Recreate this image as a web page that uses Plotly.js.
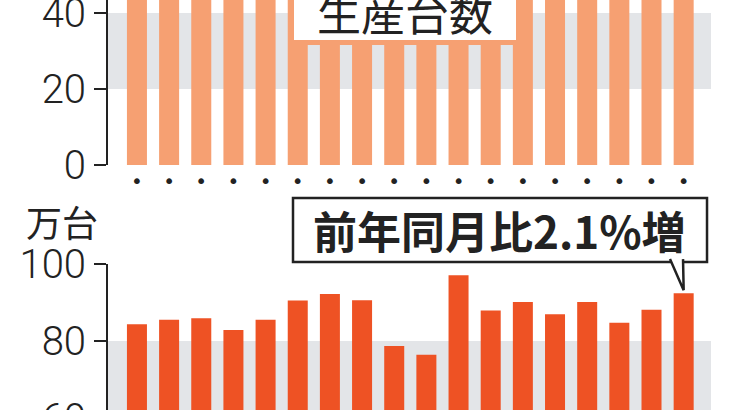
<!DOCTYPE html>
<html>
<head>
<meta charset="utf-8">
<script src="https://cdn.plot.ly/plotly-3.0.1.min.js"></script>
<style>
  html, body { margin: 0; padding: 0; overflow: hidden; background: #fff; height: 100%; }
  #chart { position: absolute; left: 0; top: -30px; width: 730px; height: 480px; }
</style>
</head>
<body>
<div id="chart"></div>
<script>
// 18 months, labels shown only as dots
var months = ['1', '2', '3', '4', '5', '6', '7', '8', '9', '10', '11', '12', '13', '14', '15', '16', '17', '18'];
// upper panel: bars run off the top of the crop, values are estimates
var prodUnits = [72, 74, 75, 71, 74, 79, 80, 79, 68, 66, 84, 76, 78, 75, 78, 73, 76, 80];
// lower panel, 万台
var salesUnits = [84.3, 85.5, 85.9, 82.8, 85.5, 90.5, 92.2, 90.6, 78.7, 76.4, 97.1, 87.9, 90.1, 86.9, 90.1, 84.7, 88.1, 92.4];
var topTicks = [0, 20, 40];
var bottomTicks = [60, 80, 100];
var dots = months.map(function () { return '•'; });

var topColor = '#f6a072';
var bottomColor = '#ee5224';
var ink = '#222222';
var band = '#e3e5e8';

var xRange = [-0.9, 17.85];
var y2Range = [55, 100];
var y2Domain = [0.0271, 0.3875];

var tickFont = { family: 'Roboto, "Noto Sans", sans-serif', size: 40, color: ink, weight: 300 };
var yCommon = {
    showline: true, linecolor: ink, linewidth: 2,
    ticks: 'outside', ticklen: 12, tickwidth: 2, tickcolor: ink,
    showgrid: false, zeroline: false, tickmode: 'array',
    tickfont: tickFont, fixedrange: true
};
var xCommon = {
    type: 'category', range: xRange, showline: false, showgrid: false, zeroline: false,
    ticks: '', tickmode: 'array', tickvals: months, ticktext: dots,
    tickfont: { family: 'DejaVu Sans', size: 20, color: ink }, ticklabelstandoff: 2, fixedrange: true
};

// tail of the callout points at the last bar
function toPaperX(i) { return (i - xRange[0]) / (xRange[1] - xRange[0]); }
function toPaperY2(v) { return y2Domain[0] + (v - y2Range[0]) / (y2Range[1] - y2Range[0]) * (y2Domain[1] - y2Domain[0]); }
var last = salesUnits.length - 1;
var tipX = toPaperX(last);
var tipY = toPaperY2(salesUnits[last] + 0.8);
var boxBottom = 0.3917;
var tailPath = 'M 0.932,' + (boxBottom + 0.006) + ' L ' + tipX + ',' + tipY + ' L 0.9536,' + (boxBottom + 0.006);

var data = [{
    x: months, y: prodUnits, type: 'bar', xaxis: 'x', yaxis: 'y',
    marker: { color: topColor }, hoverinfo: 'skip'
}, {
    x: months, y: salesUnits, type: 'bar', xaxis: 'x2', yaxis: 'y2',
    marker: { color: bottomColor }, hoverinfo: 'skip'
}];

var layout = {
    width: 730, height: 480,
    margin: { l: 108, r: 19, t: 0, b: 0 },
    paper_bgcolor: '#fff', plot_bgcolor: 'rgba(0,0,0,0)',
    showlegend: false, bargap: 0.378,
    xaxis: Object.assign({}, xCommon, { domain: [0, 1], anchor: 'y' }),
    xaxis2: Object.assign({}, xCommon, { domain: [0, 1], anchor: 'y2' }),
    yaxis: Object.assign({}, yCommon, { domain: [0.5938, 0.9896], range: [0, 50], tickvals: topTicks, anchor: 'x' }),
    yaxis2: Object.assign({}, yCommon, { domain: y2Domain, range: y2Range, tickvals: bottomTicks, anchor: 'x2' }),
    shapes: [
        { type: 'rect', layer: 'below', xref: 'paper', yref: 'y', x0: 0, x1: 1, y0: 20, y1: 40, fillcolor: band, line: { width: 0 } },
        { type: 'rect', layer: 'below', xref: 'paper', yref: 'y2', x0: 0, x1: 1, y0: 60, y1: 80, fillcolor: band, line: { width: 0 } },
        { type: 'rect', layer: 'above', xref: 'paper', yref: 'paper', x0: 0.3068, x1: 0.9934, y0: boxBottom, y1: 0.525, fillcolor: '#fff', line: { color: ink, width: 2.5 } },
        { type: 'path', layer: 'above', xref: 'paper', yref: 'paper', path: tailPath, fillcolor: '#fff', line: { color: ink, width: 2.5 } }
    ],
    annotations: [
        {
            text: '生産台数', xref: 'paper', yref: 'paper', x: 0.4925, y: 0.9125,
            xanchor: 'center', yanchor: 'middle', showarrow: false,
            width: 222, height: 56, bgcolor: '#fff', bordercolor: topColor, borderwidth: 5, borderpad: 0,
            font: { family: '"Noto Sans CJK JP", sans-serif', size: 44, color: ink }
        },
        {
            text: '万台', xref: 'paper', yref: 'paper', x: -0.0763, y: 0.4771,
            xanchor: 'center', yanchor: 'middle', showarrow: false,
            font: { family: '"Noto Sans CJK JP", sans-serif', size: 36, color: ink }
        },
        {
            text: '<b>前年同月比2.1%増</b>', xref: 'paper', yref: 'paper', x: 0.650, y: 0.4583,
            xanchor: 'center', yanchor: 'middle', showarrow: false,
            font: { family: '"Noto Sans CJK JP", sans-serif', size: 44, color: ink }
        }
    ]
};

Plotly.newPlot('chart', data, layout, { staticPlot: true, displayModeBar: false });
</script>
</body>
</html>
